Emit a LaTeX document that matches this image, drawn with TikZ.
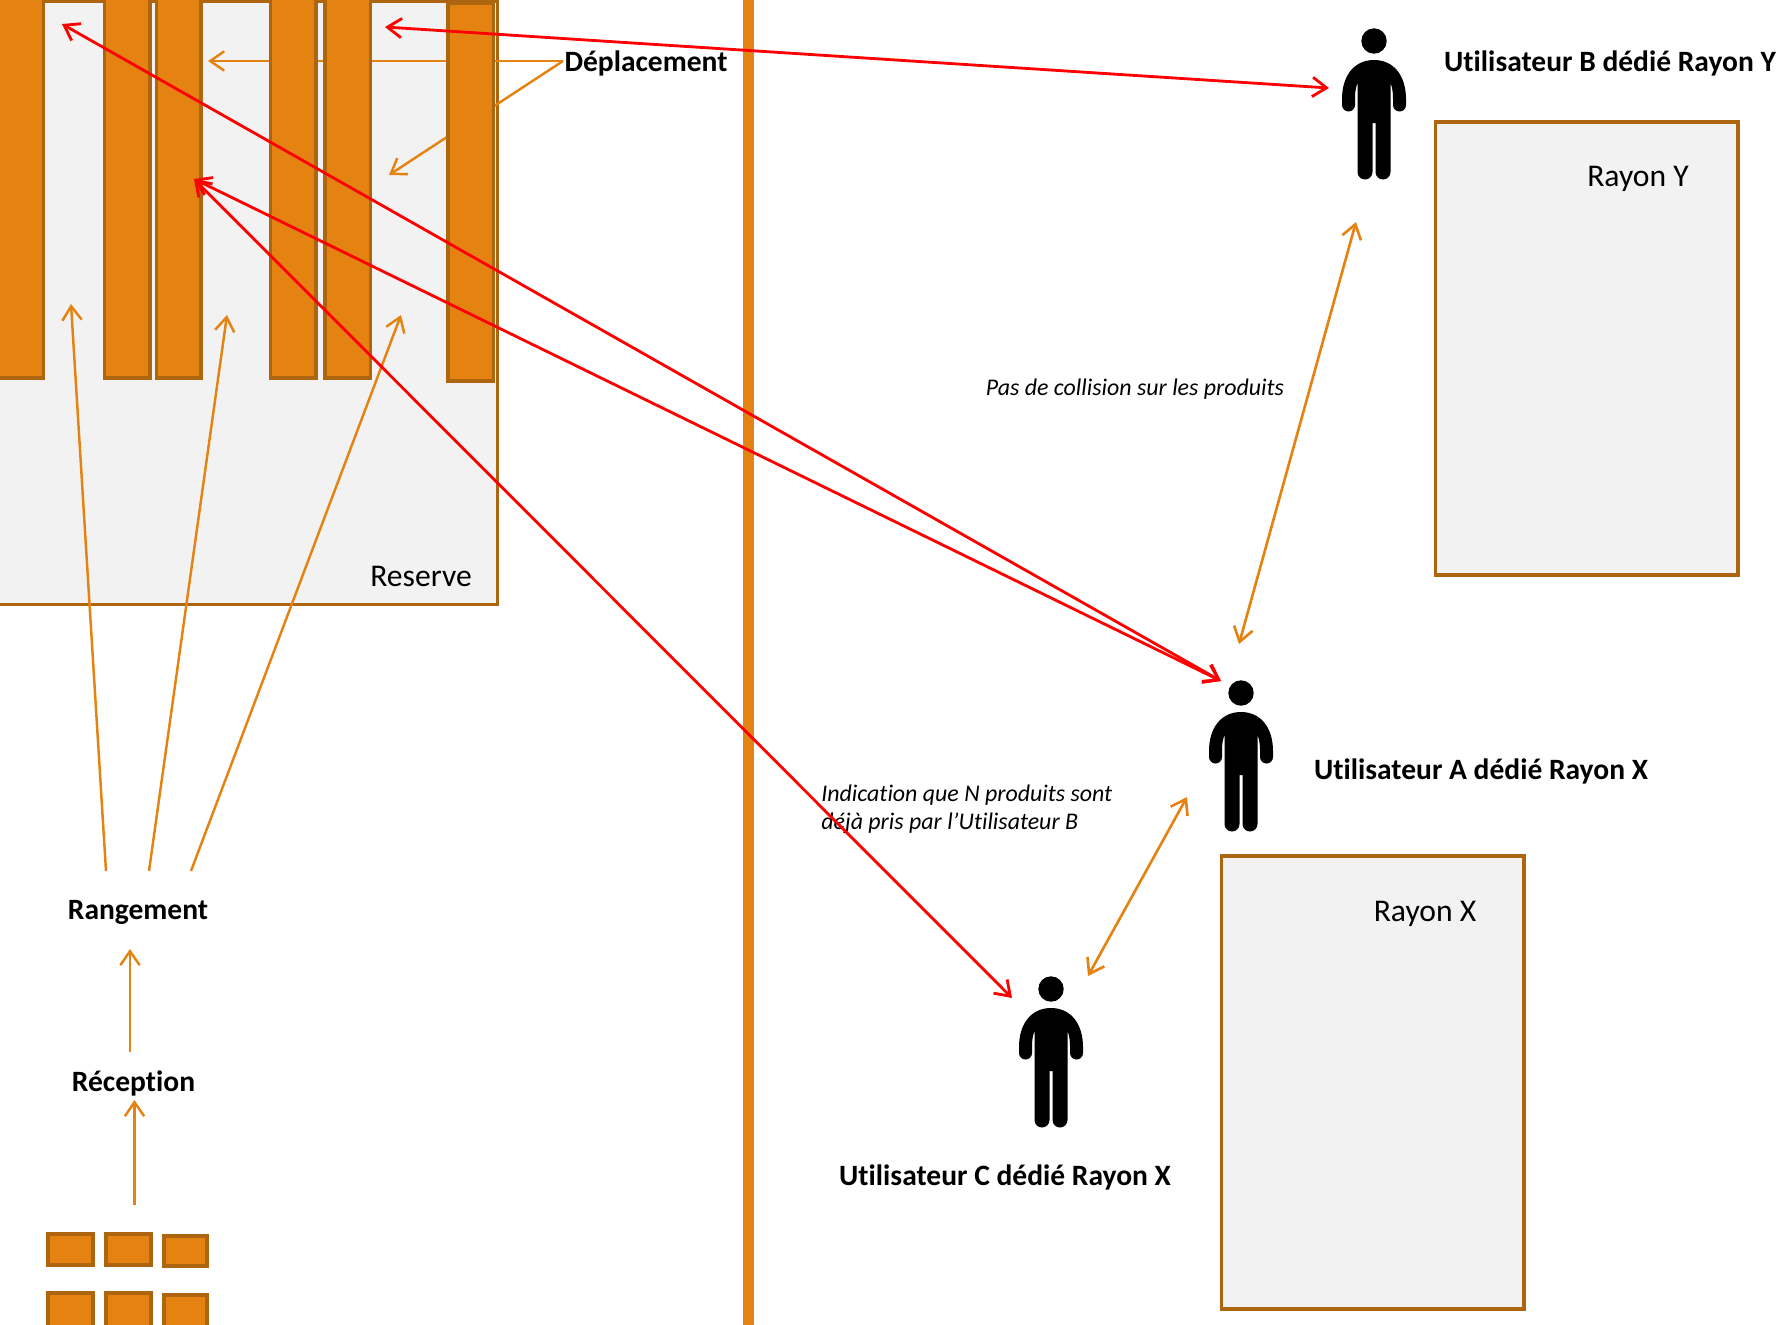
\documentclass[tikz,border=0pt]{standalone}
\usepackage{fontspec}
\setmainfont[Ligatures=NoCommon]{Carlito}
\usetikzlibrary{arrows.meta}
\definecolor{bar}{HTML}{E48312}
\definecolor{barline}{HTML}{AD660F}
\definecolor{zone}{HTML}{F2F2F2}
\tikzset{
	>={Straight Barb[length=8pt,width=11pt]},
	block/.style={draw=barline, fill=bar, line width=1.9pt},
	zonebox/.style={draw=barline, fill=zone, line width=1.9pt},
	orangeline/.style={<->, bar, line width=1.5pt},
	moveline/.style={->, bar, line width=1.4pt},
	redline/.style={<->, red, line width=1.6pt},
	title/.style={font=\fontsize{16.8}{19}\selectfont\bfseries},
	zonetext/.style={font=\fontsize{18}{20}\selectfont},
	note/.style={font=\fontsize{13.6}{16}\selectfont\itshape},
	person/.pic={
		\fill (0,0) circle[radius=12.7];
		\fill (0,19) .. controls (-20,19) and (-32,35) .. (-32,58) -- (-32,64)
			arc[start angle=180, end angle=0, radius=6.5] -- (-19,58)
			.. controls (-19,50) and (-18,46) .. (-16.5,42) -- (-16.5,131)
			arc[start angle=180, end angle=0, radius=7.5] -- (-1.5,82) -- (1.5,82) -- (1.5,131)
			arc[start angle=180, end angle=0, radius=7.5] -- (16.5,42)
			.. controls (18,46) and (19,50) .. (19,58) -- (19,64)
			arc[start angle=180, end angle=0, radius=6.5] -- (32,58)
			.. controls (32,35) and (20,19) .. (0,19) -- cycle;
	}
}
\begin{document}
\begin{tikzpicture}[x=0.02cm, y=-0.02cm]
		\useasboundingbox (0,0) rectangle (1785,1325);
		\clip (0,0) rectangle (1785,1325);

		%reserve
		\draw[zonebox] (-5,1) rectangle (497.5,604.5);
		\node[zonetext] (reserve) at (421,576){Reserve};

		%deplacement
		\node[title] (depl) at (646,63){Déplacement};
		\coordinate (deplfrom) at (563,61);
		\coordinate (deplleft) at (208,61);
		\coordinate (depldown) at (389,175);
		\draw[moveline] (deplfrom) -- (deplleft);
		\draw[moveline] (deplfrom) -- (depldown);

		\foreach \a/\b in {-5/43.5, 104.5/150, 156.5/201, 270.5/316, 325/370.5}{
			\draw[block] (\a,-5) rectangle (\b,378);
		}
		\draw[block] (448,3) rectangle (493.5,381);

		%middle separation
		\fill[bar] (743.4,0) rectangle (753.6,1325);

		%reception
		\foreach \a in {48, 106}{
			\draw[block] (\a,1234) rectangle (\a+45,1265);
			\draw[block] (\a,1293) rectangle (\a+45,1330);
		}
		\draw[block] (164,1236) rectangle (207,1266);
		\draw[block] (164,1295) rectangle (207,1330);

		\node[title] (range) at (138,912){Rangement};
		\node[title] (recep) at (133.5,1083){Réception};
		\coordinate (boxtop) at (134.5,1205);
		\coordinate (recepup) at (134.5,1100);
		\coordinate (recepout) at (130,1052);
		\coordinate (rangein) at (130,949);
		\draw[moveline] (boxtop) -- (recepup);
		\draw[moveline] (recepout) -- (rangein);

		%rangement
		\coordinate (rangea) at (106,871);
		\coordinate (rangeb) at (149,871);
		\coordinate (rangec) at (191,871);
		\coordinate (gapa) at (71,304);
		\coordinate (gapb) at (227,315);
		\coordinate (gapc) at (401,315);
		\draw[moveline] (rangea) -- (gapa);
		\draw[moveline] (rangeb) -- (gapb);
		\draw[moveline] (rangec) -- (gapc);

		%rayons
		\draw[zonebox] (1435.5,122) rectangle (1738,575);
		\node[zonetext] (rayony) at (1638,179){Rayon Y};
		\draw[zonebox] (1221.5,856) rectangle (1524,1309);
		\node[zonetext] (rayonx) at (1425,914){Rayon X};

		%users
		\pic (userb) at (1374,41) {person};
		\pic (usera) at (1241,693) {person};
		\pic (userc) at (1051,989) {person};
		\node[title] (labelb) at (1610,63.5){Utilisateur B dédié Rayon Y};
		\node[title] (labela) at (1481,771){Utilisateur A dédié Rayon X};
		\node[title] (labelc) at (1005,1177){Utilisateur C dédié Rayon X};

		\node[note] (collision) at (1135,389){Pas de collision sur les produits};
		\node[note, anchor=west, align=left, inner sep=0pt] (indic) at (821,809.5){Indication que N produits sont\\déjà pris par l’Utilisateur B};

		\coordinate (ba) at (1356,222);
		\coordinate (ab) at (1239,644);
		\coordinate (ac) at (1187,797);
		\coordinate (ca) at (1088,976);
		\draw[orangeline] (ba) -- (ab);
		\draw[orangeline] (ac) -- (ca);

		%red arrows
		\coordinate (stocka) at (62,24);
		\coordinate (stockb) at (194,179);
		\coordinate (stockc) at (385,27);
		\coordinate (toa) at (1221,681);
		\coordinate (tob) at (1329,88);
		\coordinate (toc) at (1012,998);
		\draw[redline] (stockc) -- (tob);
		\draw[redline] (stocka) -- (toa);
		\draw[redline] (stockb) -- (toa);
		\draw[redline] (stockb) -- (toc);
		\end{tikzpicture}
\end{document}
